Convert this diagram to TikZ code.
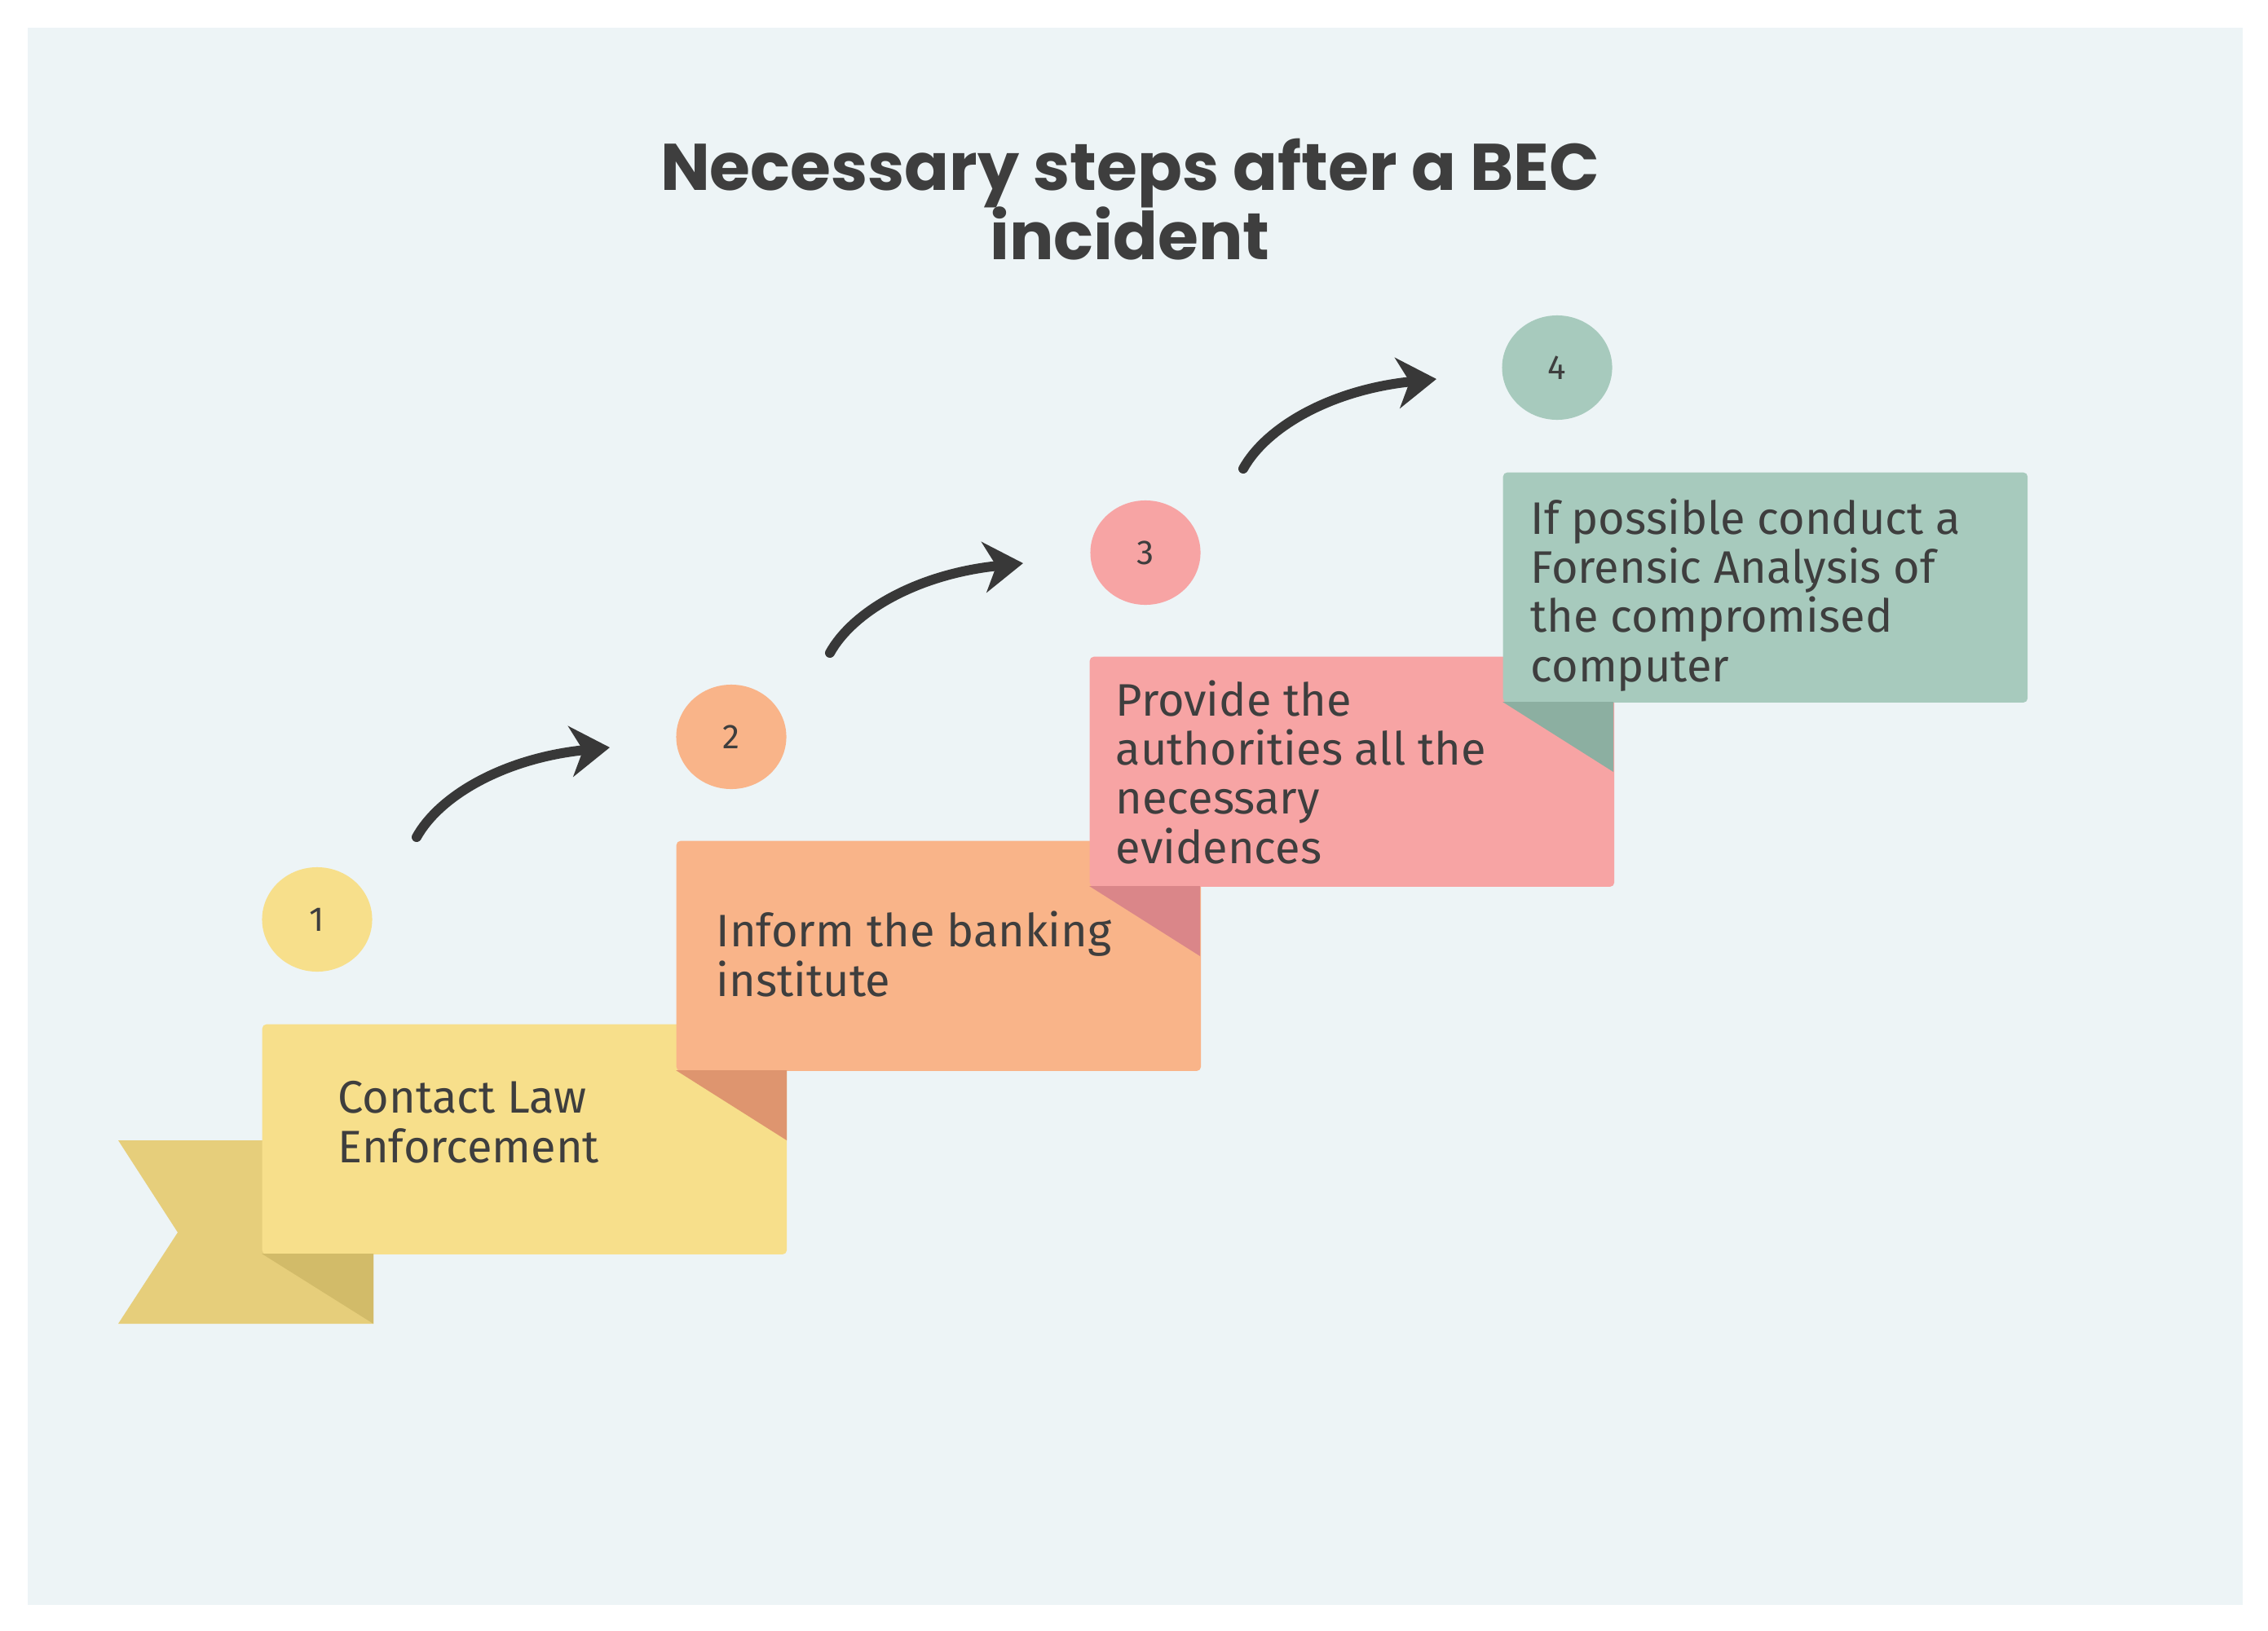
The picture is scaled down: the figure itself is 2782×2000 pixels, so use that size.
\documentclass[tikz,border=0pt]{standalone}
\usepackage{fontspec}
\setmainfont{Fira Sans}
\newfontfamily\titlefont{Poppins}
\usetikzlibrary{arrows.meta,shapes.geometric}
\newcommand{\tightlines}{\lineskiplimit=-100pt\relax}
\newcommand{\stepfont}{\fontsize{15.9}{17.1}\selectfont\tightlines}
\newcommand{\headfont}{\titlefont\bfseries\fontsize{23}{24}\selectfont\tightlines}
\definecolor{bg}{HTML}{EDF4F6}
\definecolor{txtc}{HTML}{3E3E3E}
\definecolor{arrc}{HTML}{383838}
\definecolor{yel}{HTML}{F7DF8B}
\definecolor{yeltail}{HTML}{E6CE7B}
\definecolor{yelfold}{HTML}{D2BB69}
\definecolor{ora}{HTML}{F9B489}
\definecolor{orafold}{HTML}{DE956F}
\definecolor{pin}{HTML}{F7A4A4}
\definecolor{pinfold}{HTML}{DA8689}
\definecolor{gre}{HTML}{A7CABD}
\definecolor{grefold}{HTML}{8CAFA1}
\tikzset{
  stepbox/.style={rectangle, rounded corners=0.05cm, minimum width=6.43cm, minimum height=2.82cm, anchor=north west, inner sep=0pt, draw=none},
  steptxt/.style={anchor=base west, inner sep=0pt, align=left, text=txtc, font=\stepfont},
  numcirc/.style={ellipse, minimum width=1.35cm, minimum height=1.28cm, inner sep=0pt, text=txtc, font=\fontsize{12}{13}\selectfont},
  titletxt/.style={anchor=base, inner sep=0pt, align=center, text=txtc, font=\headfont},
  curvearr/.style={draw=arrc, line width=0.12cm, line cap=round, -{Stealth[length=0.48cm, width=0.62cm, inset=0.15cm]}}
}
\begin{document}
\begin{tikzpicture}[x=0.01cm,y=-0.01cm]
\useasboundingbox (0,0) rectangle (2782,2000);
\fill[white] (0,0) rectangle (2782,2000);
\fill[bg] (34,34) rectangle (2751,1969);

% title (anchor base = last line)
\node[titletxt] (title) at (1386,318) {Necessary steps after a BEC\\incident};

% ribbon tail of step 1
\fill[yeltail] (145,1399) -- (458,1399) -- (458,1624) -- (145,1624) -- (218,1512) -- cycle;

% step 1
\node[stepbox, fill=yel] (b1) at (321,1256) {};
\fill[yelfold] (321,1538) -- (458,1538) -- (458,1624) -- cycle;
% step 2
\node[stepbox, fill=ora] (b2) at (829,1031) {};
\fill[orafold] (829,1313) -- (965,1313) -- (965,1399) -- cycle;
% step 3
\node[stepbox, fill=pin] (b3) at (1336,805) {};
\fill[pinfold] (1336,1087) -- (1472,1087) -- (1472,1173) -- cycle;
% step 4
\node[stepbox, fill=gre] (b4) at (1843,579) {};
\fill[grefold] (1843,861) -- (1979,861) -- (1979,947) -- cycle;

% texts (anchor base = last line baseline)
\node[steptxt] (t1) at (414,1426) {Contact Law\\Enforcement};
\node[steptxt] (t2) at (878,1222) {Inform the banking\\institute};
\node[steptxt] (t3) at (1368,1059) {Provide the\\authorities all the\\necessary\\evidences};
\node[steptxt] (t4) at (1877,836) {If possible conduct a\\Forensic Analysis of\\the compromised\\computer};

% number circles
\node[numcirc, fill=yel] (c1) at (389,1128) {1};
\node[numcirc, fill=ora] (c2) at (897,904) {2};
\node[numcirc, fill=pin] (c3) at (1405,678) {3};
\node[numcirc, fill=gre] (c4) at (1910,451) {4};

% arrows
\coordinate (a1s) at (511,1027);
\coordinate (a1e) at (748,917);
\coordinate (a2s) at (1018,801);
\coordinate (a2e) at (1255,691);
\coordinate (a3s) at (1525,575);
\coordinate (a3e) at (1762,465);
\draw[curvearr] (a1s) .. controls +(29,-52) and +(-128,13) .. (a1e);
\draw[curvearr] (a2s) .. controls +(29,-52) and +(-128,13) .. (a2e);
\draw[curvearr] (a3s) .. controls +(29,-52) and +(-128,13) .. (a3e);
\end{tikzpicture}
\end{document}
